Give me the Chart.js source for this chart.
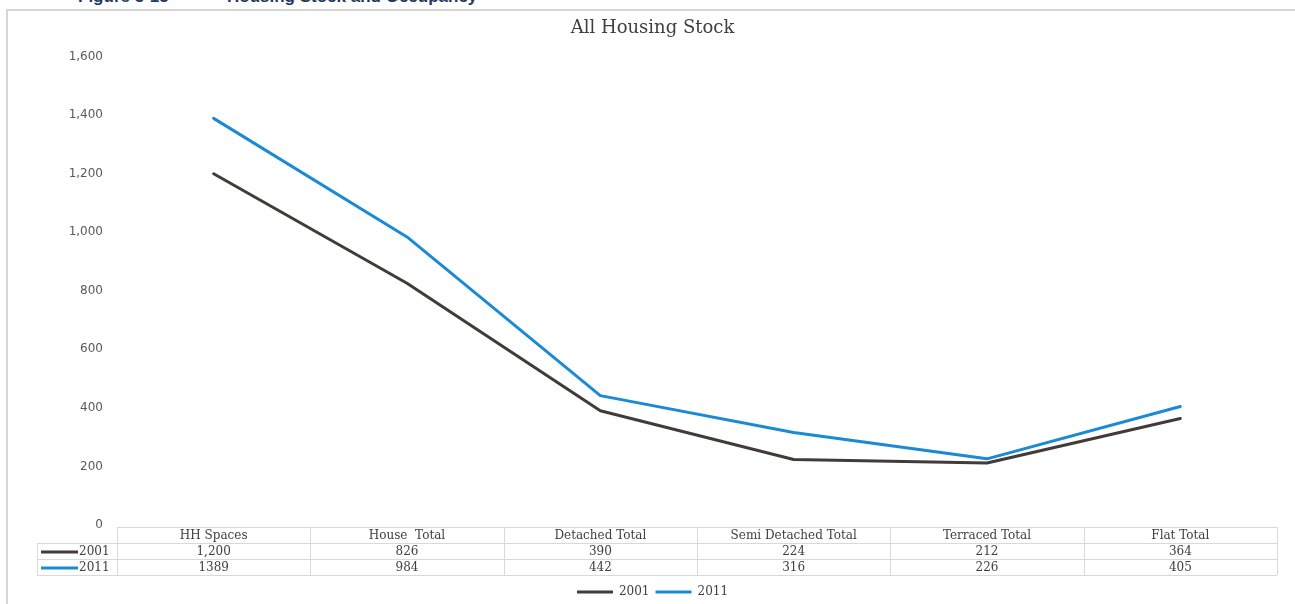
<!DOCTYPE html>
<html>
<head>
<meta charset="utf-8">
<script src="https://cdn.jsdelivr.net/npm/chart.js@4"></script>
<style>
body { margin: 0; background: #fff; overflow: hidden; }
#frame { position: absolute; left: 6px; top: 9px; width: 1400px; height: 700px;
         border-left: 2px solid #d6d6d6; border-top: 2px solid #d6d6d6; }
.fig { position: absolute; top: -12px; font: bold 17px "Liberation Sans", sans-serif;
       color: #1f3864; white-space: pre; line-height: 17px; }
#wrap { position: absolute; left: 0; top: 0; width: 1295px; height: 604px; }
</style>
</head>
<body>
<div id="frame"></div>
<div class="fig" style="left:78px">Figure 5-15</div>
<div class="fig" style="left:227px">Housing Stock and Occupancy</div>
<div id="wrap"><canvas id="myChart"></canvas></div>
<script>
const ctx = document.getElementById('myChart').getContext('2d');

// datos
const categories = ['HH Spaces', 'House  Total', 'Detached Total', 'Semi Detached Total', 'Terraced Total', 'Flat Total'];
const values2001 = [1200, 826, 390, 224, 212, 364];
const values2011 = [1389, 984, 442, 316, 226, 405];
const seriesNames = ['2001', '2011'];
const seriesColors = ['#433a3a', '#1b8ad6'];
const yMin = 0, yMax = 1600, yStep = 200;

const textColor = '#404040';
const serif = '"DejaVu Serif", serif';

// tabla de datos debajo del grafico
const tablePlugin = {
    id: 'dataTable',
    afterDraw(chart) {
        const c = chart.ctx;
        const area = chart.chartArea;
        const xs = chart.scales.x;
        const half = area.width / categories.length / 2;
        const top = Math.round(area.bottom) + 2;
        const rowH = 16;
        const labelLeft = 37;
        c.save();
        c.strokeStyle = '#d9d9d9';
        c.lineWidth = 1;
        const hLine = (x1, x2, y) => { c.beginPath(); c.moveTo(x1, y + 0.5); c.lineTo(x2, y + 0.5); c.stroke(); };
        const vLine = (x, y1, y2) => { c.beginPath(); c.moveTo(Math.round(x) + 0.5, y1); c.lineTo(Math.round(x) + 0.5, y2); c.stroke(); };
        hLine(area.left, area.right, top);
        hLine(labelLeft, area.right, top + rowH);
        hLine(labelLeft, area.right, top + rowH * 2);
        hLine(labelLeft, area.right, top + rowH * 3);
        vLine(labelLeft, top + rowH, top + rowH * 3);
        for (let i = 0; i <= categories.length; i++) {
            const x = i < categories.length ? xs.getPixelForValue(i) - half : area.right;
            vLine(x, top, top + rowH * 3);
        }
        c.font = '12px ' + serif;
        c.fillStyle = textColor;
        c.textAlign = 'center';
        c.textBaseline = 'middle';
        categories.forEach((cat, i) => {
            c.fillText(cat, xs.getPixelForValue(i), top + rowH / 2 + 1);
        });
        chart.data.datasets.forEach((ds, r) => {
            const yMid = top + rowH * (r + 1) + rowH / 2 + 1;
            ds.data.forEach((v, i) => {
                const txt = ds.useComma ? v.toLocaleString('en-US') : String(v);
                c.fillText(txt, xs.getPixelForValue(i), yMid);
            });
            // muestra de la linea + nombre
            c.strokeStyle = ds.borderColor;
            c.lineWidth = 3;
            c.beginPath();
            c.moveTo(labelLeft + 4, yMid);
            c.lineTo(labelLeft + 41, yMid);
            c.stroke();
            c.textAlign = 'left';
            c.fillText(ds.label, labelLeft + 42, yMid);
            c.textAlign = 'center';
        });
        c.restore();
    }
};

const chart = new Chart(ctx, {
    type: 'line',
    data: {
        labels: categories,
        datasets: [
            { label: seriesNames[0], data: values2001, borderColor: seriesColors[0], backgroundColor: seriesColors[0], useComma: true },
            { label: seriesNames[1], data: values2011, borderColor: seriesColors[1], backgroundColor: seriesColors[1], useComma: false }
        ]
    },
    options: {
        responsive: true,
        maintainAspectRatio: false,
        animation: false,
        layout: { padding: { top: 0, right: 18, bottom: -4, left: 28 } },
        elements: {
            line: { borderWidth: 3, tension: 0, borderCapStyle: 'round', borderJoinStyle: 'round' },
            point: { radius: 0, hoverRadius: 0 }
        },
        scales: {
            x: {
                offset: true,
                grid: { display: false, drawTicks: false },
                border: { display: false },
                ticks: { display: false },
                afterFit: (s) => { s.height = 55; }
            },
            y: {
                min: yMin,
                max: yMax,
                grid: { display: false, drawTicks: false },
                border: { display: false },
                ticks: {
                    stepSize: yStep,
                    padding: 14,
                    color: '#595959',
                    font: { family: '"DejaVu Sans", sans-serif', size: 12 },
                    callback: (v) => v.toLocaleString('en-US')
                },
                afterFit: (s) => { s.width = 89; }
            }
        },
        plugins: {
            title: {
                display: true,
                text: 'All Housing Stock',
                color: textColor,
                font: { family: serif, size: 18, weight: 'normal' },
                padding: { top: 18, bottom: 17 }
            },
            legend: {
                position: 'bottom',
                labels: {
                    boxWidth: 36,
                    boxHeight: 3,
                    padding: 6,
                    color: textColor,
                    font: { family: serif, size: 12 },
                    generateLabels: (ch) => Chart.defaults.plugins.legend.labels.generateLabels(ch)
                        .map(item => Object.assign(item, { lineWidth: 0 }))
                }
            },
            tooltip: { enabled: false }
        }
    },
    plugins: [tablePlugin]
});
</script>
</body>
</html>
